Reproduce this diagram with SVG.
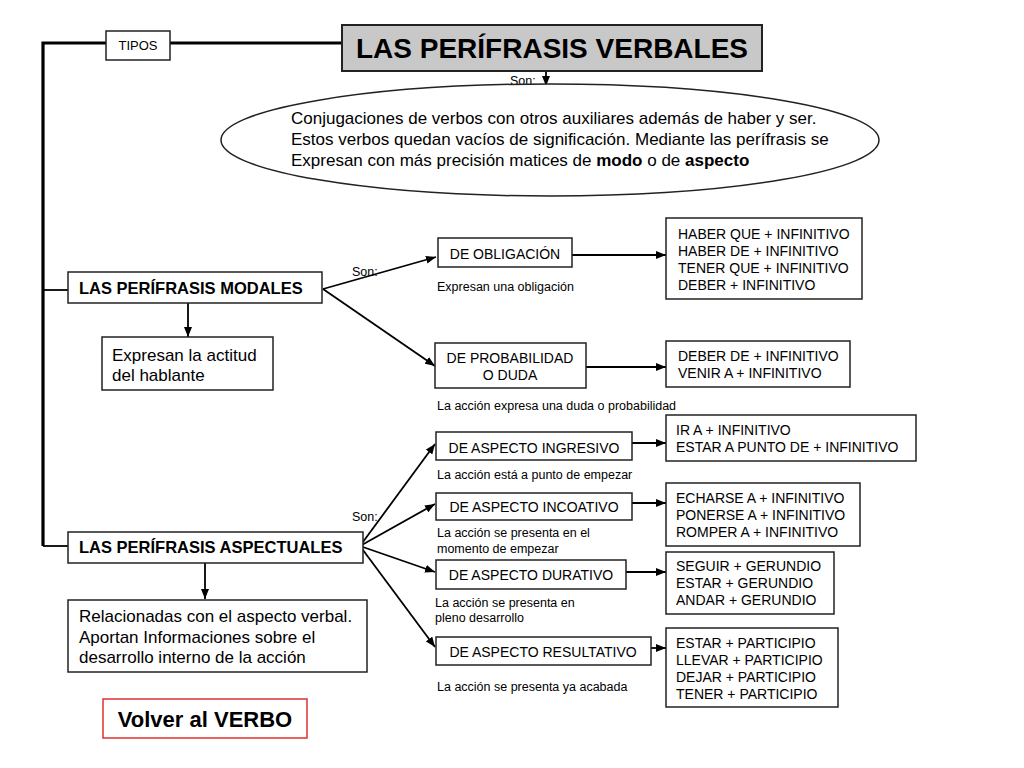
<svg xmlns="http://www.w3.org/2000/svg" width="1024" height="768" viewBox="0 0 1024 768">
<style>
text{font-family:"Liberation Sans",Arial,sans-serif;fill:#000}
.box{fill:#fff;stroke:#222;stroke-width:1.5}
.lbl{font-size:14px}
.sm{font-size:12.5px}
.big{font-size:17px}
.bold{font-weight:bold}
.c{text-anchor:middle}
.con{fill:none;stroke:#000;stroke-width:1.8}
.arr{marker-end:url(#ah)}
</style>
<defs>
<marker id="ah" markerUnits="userSpaceOnUse" markerWidth="10" markerHeight="8" refX="10" refY="4" orient="auto">
<path d="M0,0 L10,4 L0,8 z" fill="#000"/>
</marker>
</defs>
<rect width="1024" height="768" fill="#fff"/>
<g id="connectors">
<polyline class="con" points="43,546 43,43 106,43" style="stroke-width:3.2"/>
<line class="con" x1="170" y1="43" x2="342" y2="43" style="stroke-width:3.2"/>
<line class="con" x1="43" y1="290" x2="68" y2="290"/>
<line class="con" x1="43" y1="546" x2="68" y2="546"/>
<line class="con arr" x1="546" y1="71" x2="546" y2="86"/>
<line class="con arr" x1="188" y1="303" x2="188" y2="337"/>
<line class="con arr" x1="323" y1="289" x2="436" y2="257"/>
<line class="con arr" x1="323" y1="289" x2="435" y2="366"/>
<line class="con arr" x1="572" y1="255" x2="666" y2="255"/>
<line class="con arr" x1="586" y1="367" x2="666" y2="367"/>
<line class="con arr" x1="205" y1="563" x2="205" y2="599"/>
<line class="con arr" x1="360" y1="546" x2="435" y2="444"/>
<line class="con arr" x1="360" y1="546" x2="435" y2="504"/>
<line class="con arr" x1="360" y1="546" x2="435" y2="572"/>
<line class="con arr" x1="360" y1="546" x2="435" y2="647"/>
<line class="con arr" x1="632" y1="443" x2="666" y2="443"/>
<line class="con arr" x1="632" y1="503" x2="666" y2="503"/>
<line class="con arr" x1="626" y1="572" x2="666" y2="572"/>
<line class="con arr" x1="651" y1="648" x2="666" y2="648"/>
<text class="sm" x="510" y="85">Son:</text>
<text class="sm" x="352" y="276">Son:</text>
<text class="sm" x="352" y="521">Son:</text>
</g>
<g id="tipos">
<rect class="box" x="106" y="31" width="64" height="29"/>
<text x="138" y="50" class="c" style="font-size:13px">TIPOS</text>
</g>
<g id="title">
<rect x="342" y="25" width="420" height="46" fill="#c8c8c8" stroke="#222" stroke-width="2"/>
<text x="552" y="58" class="c bold" style="font-size:28px">LAS PERÍFRASIS VERBALES</text>
</g>
<g id="definicion">
<ellipse cx="550" cy="140" rx="329" ry="56" fill="#fff" stroke="#222" stroke-width="1.5"/>
<text class="big" x="291" y="124">Conjugaciones de verbos con otros auxiliares además de haber y ser.</text>
<text class="big" x="291" y="145">Estos verbos quedan vacíos de significación. Mediante las perífrasis se</text>
<text class="big" x="291" y="166">Expresan con más precisión matices de <tspan class="bold">modo</tspan> o de <tspan class="bold">aspecto</tspan></text>
</g>
<g id="modales">
<rect class="box" x="68" y="272" width="254" height="31"/>
<text x="79" y="294" class="bold" style="font-size:16.5px">LAS PERÍFRASIS MODALES</text>
</g>
<g id="actitud">
<rect class="box" x="102" y="337" width="171" height="53"/>
<text class="big" x="112" y="361">Expresan la actitud</text>
<text class="big" x="112" y="381">del hablante</text>
</g>
<g id="obligacion">
<rect class="box" x="438" y="238" width="134" height="29"/>
<text class="lbl c" x="505" y="259">DE OBLIGACIÓN</text>
<text class="sm" x="437" y="291">Expresan una obligación</text>
</g>
<g id="obligacion-formas">
<rect class="box" x="666" y="218" width="196" height="81"/>
<text class="lbl" x="678" y="239">HABER QUE + INFINITIVO</text>
<text class="lbl" x="678" y="256">HABER DE + INFINITIVO</text>
<text class="lbl" x="678" y="273">TENER QUE + INFINITIVO</text>
<text class="lbl" x="678" y="290">DEBER + INFINITIVO</text>
</g>
<g id="probabilidad">
<rect class="box" x="435" y="343" width="151" height="45"/>
<text class="lbl c" x="510" y="363">DE PROBABILIDAD</text>
<text class="lbl c" x="510" y="380">O DUDA</text>
<text class="sm" x="437" y="410">La acción expresa una duda o probabilidad</text>
</g>
<g id="probabilidad-formas">
<rect class="box" x="666" y="341" width="184" height="46"/>
<text class="lbl" x="678" y="361">DEBER DE + INFINITIVO</text>
<text class="lbl" x="678" y="378">VENIR A + INFINITIVO</text>
</g>
<g id="aspectuales">
<rect class="box" x="68" y="532" width="295" height="31"/>
<text x="79" y="553" class="bold" style="font-size:16.5px">LAS PERÍFRASIS ASPECTUALES</text>
</g>
<g id="relacionadas">
<rect class="box" x="68" y="600" width="299" height="72"/>
<text class="big" x="79" y="622">Relacionadas con el aspecto verbal.</text>
<text class="big" x="79" y="643">Aportan Informaciones sobre el</text>
<text class="big" x="79" y="663">desarrollo interno de la acción</text>
</g>
<g id="volver">
<rect x="103" y="699" width="204" height="39" fill="#fff" stroke="#e03030" stroke-width="1.5"/>
<text x="205" y="727" class="c bold" style="font-size:22px">Volver al VERBO</text>
</g>
<g id="ingresivo">
<rect class="box" x="436" y="432" width="196" height="28"/>
<text class="lbl c" x="534" y="453">DE ASPECTO INGRESIVO</text>
<text class="sm" x="437" y="479">La acción está a punto de empezar</text>
</g>
<g id="ingresivo-formas">
<rect class="box" x="666" y="415" width="250" height="46"/>
<text class="lbl" x="676" y="435">IR A + INFINITIVO</text>
<text class="lbl" x="676" y="452">ESTAR A PUNTO DE + INFINITIVO</text>
</g>
<g id="incoativo">
<rect class="box" x="436" y="493" width="196" height="27"/>
<text class="lbl c" x="534" y="512">DE ASPECTO INCOATIVO</text>
<text class="sm" x="437" y="537">La acción se presenta en el</text>
<text class="sm" x="437" y="553">momento de empezar</text>
</g>
<g id="incoativo-formas">
<rect class="box" x="666" y="483" width="194" height="63"/>
<text class="lbl" x="676" y="503">ECHARSE A + INFINITIVO</text>
<text class="lbl" x="676" y="520">PONERSE A + INFINITIVO</text>
<text class="lbl" x="676" y="537">ROMPER A + INFINITIVO</text>
</g>
<g id="durativo">
<rect class="box" x="436" y="560" width="190" height="29"/>
<text class="lbl c" x="531" y="580">DE ASPECTO DURATIVO</text>
<text class="sm" x="435" y="607">La acción se presenta en</text>
<text class="sm" x="435" y="622">pleno desarrollo</text>
</g>
<g id="durativo-formas">
<rect class="box" x="666" y="552" width="168" height="62"/>
<text class="lbl" x="676" y="571">SEGUIR + GERUNDIO</text>
<text class="lbl" x="676" y="588">ESTAR + GERUNDIO</text>
<text class="lbl" x="676" y="605">ANDAR + GERUNDIO</text>
</g>
<g id="resultativo">
<rect class="box" x="436" y="637" width="215" height="28"/>
<text class="lbl c" x="543" y="657">DE ASPECTO RESULTATIVO</text>
<text class="sm" x="437" y="691">La acción se presenta ya acabada</text>
</g>
<g id="resultativo-formas">
<rect class="box" x="666" y="628" width="172" height="79"/>
<text class="lbl" x="676" y="648">ESTAR + PARTICIPIO</text>
<text class="lbl" x="676" y="665">LLEVAR + PARTICIPIO</text>
<text class="lbl" x="676" y="682">DEJAR + PARTICIPIO</text>
<text class="lbl" x="676" y="699">TENER + PARTICIPIO</text>
</g>
</svg>
